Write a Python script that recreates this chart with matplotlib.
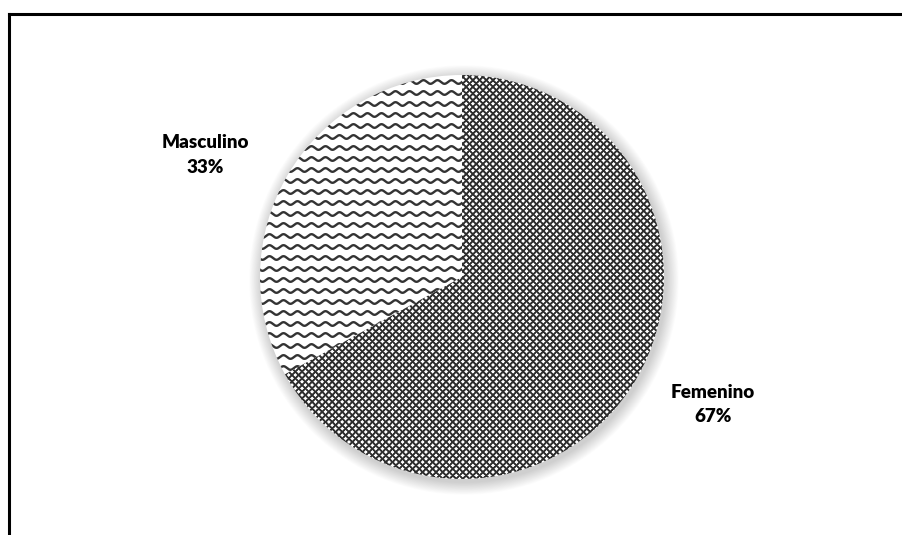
import numpy as np
import matplotlib
matplotlib.use("Agg")
import matplotlib.pyplot as plt
from matplotlib.patches import Circle
from matplotlib.lines import Line2D

categories = ["Femenino", "Masculino"]
values = [67, 33]
label_texts = ["Femenino\n67%", "Masculino\n33%"]

W, H = 903, 535
fig = plt.figure(figsize=(W / 100, H / 100), dpi=100)
ax = fig.add_axes([0, 0, 1, 1])

cx, cy, r = 462, H - 277, 202

wedges, _ = ax.pie(values, center=(cx, cy), radius=r, startangle=90,
                   counterclock=False, frame=True,
                   wedgeprops=dict(linewidth=0))
ax.set_xlim(0, W)
ax.set_ylim(0, H)
ax.set_aspect("equal")
ax.axis("off")

# soft shadow halo
for k in range(16, 0, -1):
    ax.add_patch(Circle((cx + 2, cy - 3), r + k * 0.8, facecolor="#000000",
                        alpha=0.012, edgecolor="none", zorder=1))

for w in wedges:
    w.set_zorder(2)
    w.set_facecolor("white")

# crosshatch texture for Femenino (pixel-level pattern)
n = 2 * r + 4
gx, gy = np.meshgrid(np.arange(n), np.arange(n))
p = 6.7
def dist(v):
    m = np.mod(v, p)
    return np.minimum(m, p - m)
d = np.minimum(dist(gx + gy), dist(gx - gy))
tex = np.clip(0.18 + 0.82 * (d - 0.8) / 1.2, 0.18, 1.0)
im = ax.imshow(tex, cmap="gray", vmin=0, vmax=1, interpolation="nearest",
               extent=(cx - r - 2, cx + r + 2, cy - r - 2, cy + r + 2),
               zorder=3)
im.set_clip_path(wedges[0])
ax.set_xlim(0, W)
ax.set_ylim(0, H)

# wavy texture for Masculino
xs = np.linspace(cx - r - 5, cx + 5, 800)
for yy in np.arange(cy - r - 10, cy + r + 10, 11.0):
    ln = Line2D(xs, yy + 1.8 * np.sin(2 * np.pi * xs / 14.0), color="#333333",
                lw=1.7, zorder=3)
    ax.add_line(ln)
    ln.set_clip_path(wedges[1])

ax.text(205, H - 155, label_texts[1], ha="center", va="center",
        fontsize=13.5, fontweight="heavy", family="Lato", linespacing=1.6)
ax.text(713, H - 404, label_texts[0], ha="center", va="center",
        fontsize=13.5, fontweight="heavy", family="Lato", linespacing=1.5)

# frame (top and left borders)
fig.add_artist(Line2D([9 / W, 1], [1 - 14 / H, 1 - 14 / H], color="black",
                      lw=2.2, transform=fig.transFigure))
fig.add_artist(Line2D([9 / W, 9 / W], [0, 1 - 14 / H], color="black",
                      lw=2.2, transform=fig.transFigure))

fig.savefig("out.png", dpi=100, facecolor="white")
